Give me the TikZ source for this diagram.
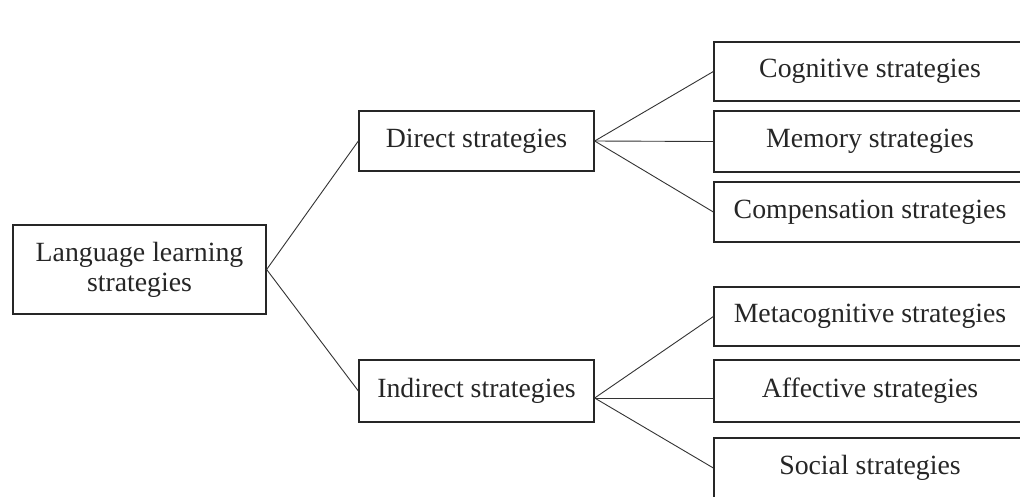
\documentclass[tikz,border=0pt]{standalone}
\usepackage{fontspec}
\setmainfont{Liberation Serif}
\begin{document}
\begin{tikzpicture}[x=1pt,y=-1pt,
  box/.style={draw=black!85, line width=1.3pt, rectangle, inner sep=0pt, align=center,
    font=\fontsize{27.8}{30}\selectfont, text=black!85},
  link/.style={draw=black!80, line width=0.9pt}]
\useasboundingbox (0,0) rectangle (1020,496);
\clip (0,0) rectangle (1020,496);
\fill[white] (0,0) rectangle (1020,496);
\node[box, minimum width=253pt, minimum height=89pt] (root) at (139.5,269.5) {Language learning\\strategies};
\node[box, minimum width=235pt, minimum height=60pt] (direct) at (476.5,141) {Direct strategies};
\node[box, minimum width=235pt, minimum height=62pt] (indirect) at (476.5,391) {Indirect strategies};
\node[box, minimum width=312pt, minimum height=59pt] (cog) at (870,71.5) {Cognitive strategies};
\node[box, minimum width=312pt, minimum height=61pt] (mem) at (870,141.5) {Memory strategies};
\node[box, minimum width=312pt, minimum height=60pt] (comp) at (870,212) {Compensation strategies};
\node[box, minimum width=312pt, minimum height=59pt] (meta) at (870,316.5) {Metacognitive strategies};
\node[box, minimum width=312pt, minimum height=62pt] (aff) at (870,391) {Affective strategies};
\node[box, minimum width=312pt, minimum height=60pt] (soc) at (870,468) {Social strategies};
\coordinate (ij) at ([yshift=-7pt]indirect.east);
\draw[link] (root.east) -- (direct.west);
\draw[link] (root.east) -- (indirect.west);
\draw[link] (direct.east) -- (cog.west);
\draw[link] (direct.east) -- (mem.west);
\draw[link] (direct.east) -- (comp.west);
\draw[link] (ij) -- (meta.west);
\draw[link] (ij) -- (ij -| aff.west);
\draw[link] (ij) -- (soc.west);
\end{tikzpicture}
\end{document}
